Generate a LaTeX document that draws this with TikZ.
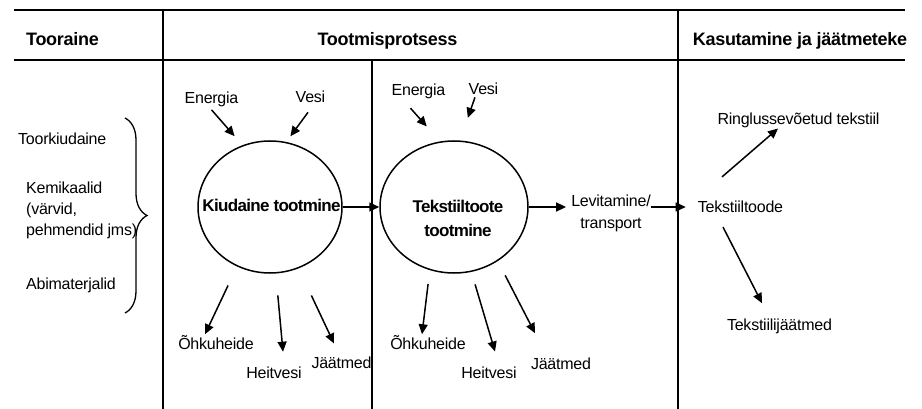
\documentclass[tikz,border=0pt]{standalone}
\usepackage{fontspec}
\setmainfont{Liberation Sans}[LetterSpace=-1.5]
\newfontfamily\paks[LetterSpace=-4]{Liberation Sans}
\usetikzlibrary{shapes, arrows.meta, decorations.pathreplacing}
\tikzstyle{joon} = [line width=1.6pt]
\tikzstyle{ring} = [draw, ellipse, line width=1.5pt, inner sep=0pt, minimum width=144pt, minimum height=132pt]
\tikzstyle{silt} = [inner sep=0pt, anchor=base, font=\fontsize{16}{21}\selectfont]
\tikzstyle{pealkiri} = [inner sep=0pt, anchor=base, font=\fontsize{18}{21}\selectfont\bfseries]
\tikzstyle{protsess} = [inner sep=0pt, font=\fontsize{17}{24}\selectfont\paks\bfseries]
\tikzstyle{nool} = [line width=1.5pt, -{Triangle[length=10pt,width=9pt]}]

\begin{document}
\begin{tikzpicture}[x=1pt, y=-1pt]
	\useasboundingbox (0,0) rectangle (922,409);
	\draw[joon] (14,10) -- (905,10);
	\draw[joon] (14,60) -- (905,60);
	\draw[joon] (163,10) -- (163,409);
	\draw[joon] (372,60) -- (372,409);
	\draw[joon] (678,10) -- (678,409);

	\node[pealkiri] (toor) at (62.5,46) {Tooraine};
	\node[pealkiri] (tootm) at (387.5,46) {Tootmisprotsess};
	\node[pealkiri] (kasut) at (800,46) {Kasutamine ja jäätmeteke};

	\node[silt, anchor=base west] (toorkiud) at (18,145) {Toorkiudaine};
	\node[silt, anchor=north west, align=left] (kemik) at (26,181.6) {Kemikaalid\\(värvid,\\pehmendid jms)};
	\node[silt, anchor=base west] (abim) at (26,290) {Abimaterjalid};
	\draw[line width=1.3pt, decorate, decoration={brace, amplitude=22pt}] (125,118) -- (125,313);

	\node[ring] (kiud) at (270,207) {};
	\node[protsess, anchor=base] (kiudkiri) at (271.5,211.7) {Kiudaine tootmine};
	\node[ring, minimum width=148pt] (tekst) at (454,207) {};
	\node[protsess, align=center] (tekstkiri) at (458,218) {Tekstiiltoote\\tootmine};
	\node[silt, anchor=north, align=center, font=\fontsize{16}{22}\selectfont] (levit) at (611,194.3) {Levitamine/\\transport};
	\node[silt] (toode) at (740.5,212.7) {Tekstiiltoode};
	\node[silt] (ringl) at (798.5,125) {Ringlussevõetud tekstiil};
	\node[silt] (tjaat) at (779.5,330) {Tekstiilijäätmed};

	\node[silt] (en1) at (211.5,103.3) {Energia};
	\node[silt] (ve1) at (310.5,103) {Vesi};
	\node[silt] (en2) at (418.5,95.7) {Energia};
	\node[silt] (ve2) at (483.5,95) {Vesi};
	\node[silt] (ohk1) at (216,349.5) {Õhkuheide};
	\node[silt] (heit1) at (274,378) {Heitvesi};
	\node[silt] (jaat1) at (341.5,368.3) {Jäätmed};
	\node[silt] (ohk2) at (428,349.5) {Õhkuheide};
	\node[silt] (heit2) at (489,378.3) {Heitvesi};
	\node[silt] (jaat2) at (561,369) {Jäätmed};

	\draw[nool, shorten >=12pt] ([yshift=-3pt]en1.south) -- (kiud.114);
	\draw[nool, shorten >=7pt] ([xshift=-2.5pt,yshift=-9pt]ve1.south) -- (kiud.76);
	\draw[nool, shorten >=20pt] ([xshift=-8pt,yshift=-9pt]en2.south) -- (tekst.102);
	\draw[nool, shorten >=24pt] ([xshift=-8.5pt,yshift=-2pt]ve2.south) -- (tekst.85);

	\draw[nool, shorten <=21pt] (kiud.-119) -- ([xshift=-11pt,yshift=1pt]ohk1.north);
	\draw[nool, shorten <=22pt] (kiud.-85) -- ([xshift=9pt,yshift=14.5pt]heit1.north);
	\draw[nool, shorten <=30pt] (kiud.-65) -- ([xshift=-7.5pt,yshift=13pt]jaat1.north);
	\draw[nool, shorten <=14pt] (tekst.-111) -- ([xshift=-6pt,yshift=1pt]ohk2.north);
	\draw[nool, shorten <=13pt] (tekst.-75) -- ([xshift=6pt,yshift=15pt]heit2.north);
	\draw[nool, shorten <=16pt] (tekst.-51) -- ([xshift=-26pt,yshift=24pt]jaat2.north);

	\draw[nool] (kiud) -- (tekst);
	\draw[nool, shorten >=5pt] (tekst.east) -- (tekst.east -| levit.west);
	\draw[nool, shorten >=12pt] (levit.east |- tekst.east) -- (toode.west |- tekst.east);
	\draw[nool] ([xshift=-18.5pt,yshift=24pt]toode.north) -- ([xshift=-20.5pt]ringl.south);
	\draw[nool] ([xshift=-17.5pt,yshift=-14pt]toode.south) -- ([xshift=-17.5pt,yshift=15pt]tjaat.north);
\end{tikzpicture}
\end{document}
